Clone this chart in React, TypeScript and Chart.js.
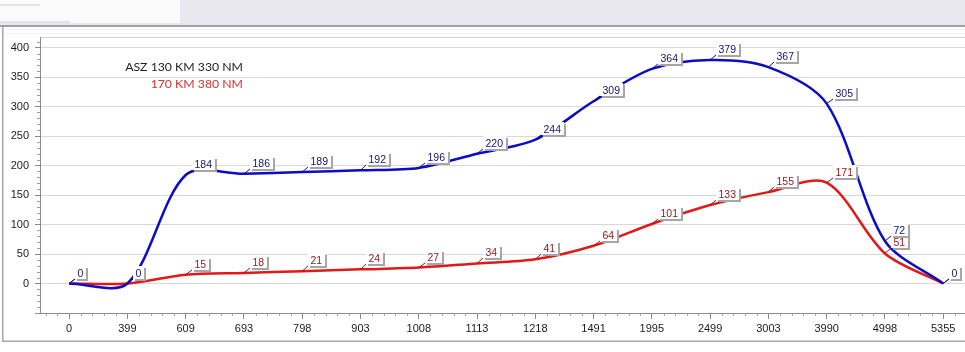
import { useEffect, useRef } from 'react';
import { Chart, registerables } from 'chart.js';

Chart.register(...registerables);

const categories = ['0', '399', '609', '693', '798', '903', '1008', '1113', '1218', '1491', '1995', '2499', '3003', '3990', '4998', '5355'];
const blueValues = [0, 0, 184, 186, 189, 192, 196, 220, 244, 309, 364, 379, 367, 305, 72, 0];
const redValues = [0, 0, 15, 18, 21, 24, 27, 34, 41, 64, 101, 133, 155, 171, 51, 0];
const yTickValues = [-50, 0, 50, 100, 150, 200, 250, 300, 350, 400];
const annotationLines = ['ASZ 130 KM 330 NM', '170 KM 380 NM'];

const BLUE = '#0c0cc4';
const RED = '#e01a1a';
const BLUE_TEXT = '#14146e';
const RED_TEXT = '#941414';
const AXIS_FONT = { family: '"Liberation Sans", Arial, sans-serif', size: 11 };

const backgroundPlugin = {
  id: 'bg',
  beforeDraw(chart: any) {
    const ctx = chart.ctx;
    const w = chart.width;
    const h = chart.height;
    ctx.save();
    ctx.fillStyle = '#ffffff';
    ctx.fillRect(0, 0, w, h);
    ctx.fillStyle = '#e9e8ee';
    ctx.fillRect(0, 0, w, 25);
    ctx.fillStyle = '#fbfbfc';
    ctx.fillRect(0, 0, 180, 23);
    ctx.fillStyle = '#e4e4e8';
    ctx.fillRect(0, 4, 40, 2);
    ctx.fillRect(0, 21, 70, 2);
    ctx.fillStyle = '#a0a0a6';
    ctx.fillRect(0, 25, w, 2);
    ctx.fillStyle = '#a8a8a8';
    ctx.fillRect(2, 27, 1.5, 315);
    ctx.fillRect(2, 340.5, w, 1.5);
    ctx.fillStyle = '#f2f2f6';
    ctx.fillRect(4, 29, w, 1);
    ctx.fillRect(4, 33, w, 1);
    const a = chart.chartArea;
    ctx.fillStyle = '#d4d4d4';
    ctx.fillRect(a.left, a.top, w - a.left, 1);
    ctx.restore();
  },
};

const minorTicksPlugin = {
  id: 'minorTicks',
  afterDraw(chart: any) {
    const ctx = chart.ctx;
    const xs = chart.scales.x;
    const ys = chart.scales.y;
    const a = chart.chartArea;
    ctx.save();
    ctx.strokeStyle = '#a0a0a0';
    ctx.lineWidth = 1;
    ctx.beginPath();
    for (let i = -2; i <= 77; i++) {
      if (i % 5 === 0) continue;
      const v = i / 5;
      const px = Math.round(xs.getPixelForValue(v)) + 0.5;
      if (px < a.left || px > a.right) continue;
      ctx.moveTo(px, a.bottom);
      ctx.lineTo(px, a.bottom + 3);
    }
    for (let v = -40; v <= 410; v += 10) {
      if (v % 50 === 0) continue;
      const py = Math.round(ys.getPixelForValue(v)) + 0.5;
      ctx.moveTo(a.left - 3, py);
      ctx.lineTo(a.left, py);
    }
    ctx.stroke();

    ctx.textBaseline = 'middle';
    ctx.textAlign = 'right';
    let size = 13;
    ctx.font = `${size}px Lato, "Open Sans", sans-serif`;
    const wMeasured = ctx.measureText(annotationLines[0]).width;
    size = (size * 118) / wMeasured;
    ctx.font = `${size}px Lato, "Open Sans", sans-serif`;
    ctx.fillStyle = '#1e1e1e';
    ctx.fillText(annotationLines[0], 243, 67);
    ctx.fillStyle = '#d43434';
    ctx.fillText(annotationLines[1], 243, 84);
    ctx.restore();
  },
};

const labelsPlugin = {
  id: 'pointLabels',
  afterDatasetsDraw(chart: any) {
    const ctx = chart.ctx;
    ctx.save();
    ctx.font = '10.5px "Liberation Sans", Arial, sans-serif';
    ctx.textBaseline = 'alphabetic';
    ctx.textAlign = 'left';
    const order = [1, 0];
    for (const di of order) {
      const meta = chart.getDatasetMeta(di);
      const ds = chart.data.datasets[di];
      const textColor = di === 0 ? BLUE_TEXT : RED_TEXT;
      meta.data.forEach((pt: any, i: number) => {
        const val = ds.data[i].y;
        const text = String(val);
        const px = pt.x;
        const py = pt.y;
        const tw = ctx.measureText(text).width;
        const bx = Math.round(px + 6);
        const bBottom = Math.round(py - 5);
        const bw = Math.round(tw + 5);
        const bh = 13;
        const by = bBottom - bh;
        ctx.strokeStyle = textColor;
        ctx.lineWidth = 1;
        ctx.beginPath();
        ctx.moveTo(px, py);
        ctx.lineTo(bx, bBottom);
        ctx.stroke();
        ctx.fillStyle = '#a6a6a6';
        ctx.fillRect(bx + 2, by + 2, bw, bh);
        ctx.fillStyle = '#ffffff';
        ctx.fillRect(bx, by, bw, bh);
        ctx.fillStyle = textColor;
        ctx.fillText(text, bx + 2.5, bBottom - 2.5);
      });
    }
    ctx.restore();
  },
};

export default function App() {
  const ref = useRef<HTMLCanvasElement>(null);
  useEffect(() => {
    const canvas = ref.current;
    if (!canvas) return;
    const chart = new Chart(canvas, {
      type: 'line',
      data: {
        datasets: [
          {
            label: 'ASZ 130 KM 330 NM',
            data: blueValues.map((v, i) => ({ x: i, y: v })),
            borderColor: BLUE,
            borderWidth: 2.5,
            pointRadius: 0,
            tension: 0.3,
            fill: false,
          },
          {
            label: '170 KM 380 NM',
            data: redValues.map((v, i) => ({ x: i, y: v })),
            borderColor: RED,
            borderWidth: 2.5,
            pointRadius: 0,
            tension: 0.3,
            fill: false,
          },
        ],
      },
      options: {
        responsive: false,
        maintainAspectRatio: false,
        animation: false,
        layout: { padding: { top: 37, left: 0, right: 0, bottom: 0 } },
        plugins: { legend: { display: false }, tooltip: { enabled: false } },
        scales: {
          x: {
            type: 'linear',
            min: -0.5,
            max: 15.374,
            afterFit: (s: any) => {
              s.height = 39;
            },
            afterBuildTicks: (s: any) => {
              s.ticks = categories.map((_, i) => ({ value: i }));
            },
            ticks: {
              callback: (v: any) => categories[v] ?? '',
              autoSkip: false,
              maxRotation: 0,
              font: AXIS_FONT,
              color: '#1a1a1a',
              padding: 3,
            },
            grid: { drawOnChartArea: false, drawTicks: true, tickLength: 6, color: '#8c8c8c' },
            border: { color: '#8c8c8c' },
          },
          y: {
            min: -50,
            max: 418,
            afterFit: (s: any) => {
              s.width = 40;
            },
            afterBuildTicks: (s: any) => {
              s.ticks = yTickValues.map((v) => ({ value: v }));
            },
            ticks: {
              callback: (v: any) => (v < 0 ? '' : String(v)),
              font: AXIS_FONT,
              color: '#1a1a1a',
              padding: 6,
            },
            grid: { color: '#d8d8d8', tickLength: 5, tickColor: '#8c8c8c' },
            border: { color: '#8c8c8c' },
          },
        },
      },
      plugins: [backgroundPlugin, labelsPlugin, minorTicksPlugin],
    } as any);
    return () => chart.destroy();
  }, []);
  return (
    <div style={{ position: 'absolute', left: 0, top: 0, width: 965, height: 352, overflow: 'hidden', background: '#fff' }}>
      <canvas ref={ref} width={965} height={352} style={{ display: 'block', width: 965, height: 352 }} />
    </div>
  );
}
